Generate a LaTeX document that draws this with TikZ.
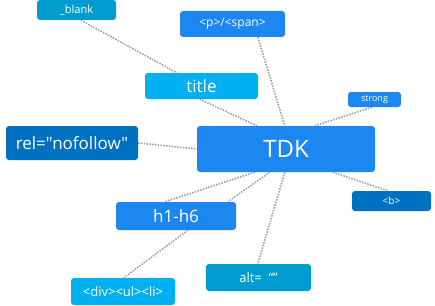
\documentclass[tikz,border=0pt]{standalone}
\usepackage{fontspec}
\setmainfont{Open Sans}[Ligatures=TeXOff]
\usetikzlibrary{backgrounds}
\definecolor{cmain}{HTML}{1C87F1}
\definecolor{cdark}{HTML}{0070C0}
\definecolor{cteal}{HTML}{009BCF}
\definecolor{clight}{HTML}{00B0F0}
\definecolor{cline}{HTML}{9E9E9E}
\tikzset{
  box/.style={rectangle, rounded corners=3pt, inner sep=0pt, text=white, draw=none, align=center},
  link/.style={cline, line width=1.6pt, dash pattern=on 1.5pt off 1.3pt}
}
\begin{document}
\begin{tikzpicture}[x=1pt,y=-1pt]
\useasboundingbox (0,0) rectangle (435,305);
\node[box, fill=cteal, minimum width=79pt, minimum height=20pt, font=\fontsize{11}{12}\selectfont] (blank) at (76.5,10) {\_blank};
\node[box, fill=cmain, minimum width=105pt, minimum height=26pt, font=\fontsize{12}{13}\selectfont] (pspan) at (232.5,24) {<p>/<span>};
\node[box, fill=clight, minimum width=113pt, minimum height=26pt, font=\fontsize{17}{18}\selectfont] (title) at (201.5,86) {title};
\node[box, fill=cmain, minimum width=53pt, minimum height=15pt, font=\fontsize{9}{10}\selectfont] (strong) at (374.5,99.5) {strong};
\node[box, fill=cdark, minimum width=132pt, minimum height=34pt, font=\fontsize{17}{18}\selectfont] (rel) at (72,143) {rel="nofollow"};
\node[box, fill=cmain, minimum width=178pt, minimum height=46pt, font=\fontsize{24}{26}\selectfont] (tdk) at (286,149) {TDK};
\node[box, fill=cdark, minimum width=79pt, minimum height=20pt, font=\fontsize{10}{11}\selectfont] (b) at (391.5,201) {<b>};
\node[box, fill=cmain, minimum width=120pt, minimum height=28pt, font=\fontsize{17}{18}\selectfont] (h) at (176,216) {h1-h6};
\node[box, fill=cteal, minimum width=105pt, minimum height=27pt, font=\fontsize{13}{14}\selectfont] (alt) at (258.5,277.5) {alt=\ \ “”};
\node[box, fill=clight, minimum width=104pt, minimum height=27pt, font=\fontsize{13}{14}\selectfont] (div) at (123,291.5) {<div><ul><li>};
\begin{scope}[on background layer]
\draw[link] ([xshift=44pt]blank.south west) -- ([xshift=32pt]title.north west);
\draw[link] ([xshift=55pt]title.south west) -- ([xshift=60pt]tdk.north west);
\draw[link] ([xshift=78pt]pspan.south west) -- ([xshift=88pt]tdk.north west);
\draw[link] ([xshift=24pt]strong.south west) -- ([xshift=118pt]tdk.north west);
\draw[link] (rel.east) -- (tdk.west);
\draw[link] ([xshift=58pt]tdk.south west) -- ([xshift=49pt]h.north west);
\draw[link] ([xshift=73pt]tdk.south west) -- ([xshift=112pt]h.north west);
\draw[link] ([xshift=88pt]tdk.south west) -- ([xshift=52pt]alt.north west);
\draw[link] ([xshift=136pt]tdk.south west) -- ([xshift=36pt]b.north west);
\draw[link] ([xshift=72pt]h.south west) -- ([xshift=53pt]div.north west);
\end{scope}
\end{tikzpicture}
\end{document}
